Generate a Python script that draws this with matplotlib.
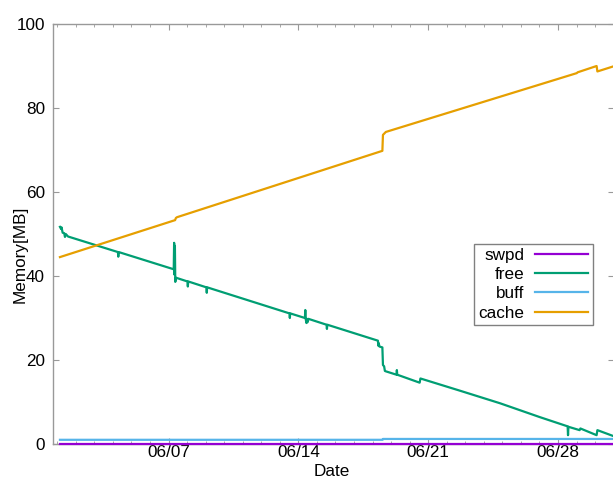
import matplotlib
matplotlib.use('Agg')
import matplotlib.pyplot as plt
import matplotlib.dates as mdates
import pandas as pd

plt.rcParams['font.family'] = ['Liberation Sans', 'DejaVu Sans']
plt.rcParams['font.size'] = 12.3

YEAR = '2020-'

# memory usage samples (MB)
swpd_time = ['06-01 03:30', '06-30 23:30']
swpd = [0, 0]

buff_time = ['06-01 03:30', '06-18 13:00', '06-18 13:30', '06-30 23:30']
buff = [1.0, 1.0, 1.2, 1.2]

cache_time = ['06-01 03:30', '06-07 08:30', '06-07 09:30', '06-07 11:00',
              '06-18 12:45', '06-18 13:30', '06-18 17:15', '06-29 00:15',
              '06-29 01:30', '06-30 02:00', '06-30 03:00', '06-30 23:30']
cache = [44.5, 53.3, 53.8, 54.0,
         69.8, 73.6, 74.3, 88.3,
         88.5, 90.0, 88.7, 89.9]

free_time = ['06-01 03:30', '06-01 05:00', '06-01 05:30', '06-01 07:00',
             '06-01 09:00', '06-01 10:00', '06-01 11:00', '06-01 14:00',
             '06-04 06:30', '06-04 07:00', '06-04 07:30',
             '06-07 06:45', '06-07 07:15', '06-07 07:45', '06-07 08:15',
             '06-07 08:45', '06-07 09:30',
             '06-08 00:30', '06-08 01:00', '06-08 01:30',
             '06-09 01:00', '06-09 01:30', '06-09 02:00',
             '06-13 12:30', '06-13 13:00', '06-13 13:30',
             '06-14 08:30', '06-14 09:00', '06-14 09:30', '06-14 10:30',
             '06-14 11:00', '06-14 12:00', '06-14 13:00',
             '06-15 12:30', '06-15 13:00', '06-15 13:30',
             '06-18 07:00', '06-18 07:30', '06-18 08:00', '06-18 09:00',
             '06-18 12:45', '06-18 13:30', '06-18 15:00', '06-18 16:00',
             '06-18 17:15',
             '06-19 07:00', '06-19 07:30', '06-19 08:00',
             '06-20 13:00', '06-20 14:00', '06-22 17:00', '06-24 21:00',
             '06-27 00:30', '06-28 12:30', '06-28 13:00', '06-28 13:30',
             '06-29 04:00', '06-29 05:00', '06-30 02:00', '06-30 03:00',
             '06-30 23:30']
free = [51.7, 51.2, 51.6, 50.3,
        50.2, 49.3, 50.0, 49.4,
        45.7, 44.6, 45.7,
        41.6, 47.9, 40.3, 47.2,
        38.6, 39.6,
        38.7, 37.5, 38.7,
        37.3, 36.0, 37.3,
        31.1, 30.0, 31.1,
        30.0, 31.9, 29.8, 28.8,
        29.8, 29.0, 29.8,
        28.4, 27.4, 28.4,
        24.6, 23.4, 24.0, 23.2,
        23.0, 18.8, 18.5, 17.4,
        17.3,
        16.5, 17.6, 16.5,
        14.6, 15.6, 12.7, 9.7,
        6.4, 4.2, 2.1, 4.1,
        3.3, 3.7, 2.1, 3.3,
        1.9]

series = [('swpd', swpd_time, swpd, '#9400d3'),
          ('free', free_time, free, '#009e73'),
          ('buff', buff_time, buff, '#56b4e9'),
          ('cache', cache_time, cache, '#e69f00')]


def to_dt(times):
    return pd.to_datetime([YEAR + t for t in times])


fig = plt.figure(figsize=(6.13, 4.8), dpi=100)
ax = fig.add_axes([53 / 613, 36 / 480, 561 / 613, 420 / 480])

for name, t, v, col in series:
    ax.plot(to_dt(t), v, color=col, lw=1.6, label=name, clip_on=False, zorder=3)

ax.set_xlim(pd.Timestamp(YEAR + '05-31 18:30'), pd.Timestamp(YEAR + '07-01 00:30'))
ax.set_ylim(0, 100)
ax.set_yticks([0, 20, 40, 60, 80, 100])

ax.xaxis.set_major_locator(mdates.DayLocator(bymonthday=[7, 14, 21, 28]))
ax.xaxis.set_minor_locator(mdates.DayLocator())
ax.xaxis.set_major_formatter(mdates.DateFormatter('%m/%d'))

for s in ax.spines.values():
    s.set_color('#999999')
    s.set_linewidth(1.0)

ax.tick_params(which='both', direction='in', top=True, right=True, color='#999999')
ax.tick_params(which='major', length=4)
ax.tick_params(which='minor', length=2)
ax.tick_params(axis='x', pad=1.0)
ax.tick_params(axis='y', pad=5.8)

fig.text(332 / 613, 1 - 471 / 480, 'Date', ha='center', va='center')
fig.text(20 / 613, 1 - 254 / 480, 'Memory[MB]', ha='center', va='center', rotation=90)

leg = ax.legend(loc='upper left', bbox_to_anchor=(474 / 613, 1 - 244 / 480),
                bbox_transform=fig.transFigure, markerfirst=False,
                fancybox=False, edgecolor='#808080', framealpha=1,
                borderpad=0.25, labelspacing=0.24, handlelength=3.1,
                handletextpad=0.65, borderaxespad=0)
leg.get_frame().set_linewidth(1.0)
leg.set_zorder(4)

fig.savefig('out.png', dpi=100)
